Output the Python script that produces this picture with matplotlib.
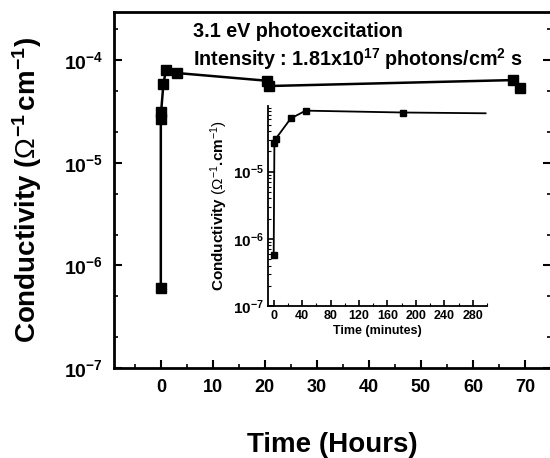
import numpy as np
import matplotlib
matplotlib.use('Agg')
import matplotlib.pyplot as plt
from matplotlib.ticker import FixedLocator, LogLocator, MultipleLocator, NullFormatter

plt.rcParams['font.family'] = ['Liberation Sans', 'DejaVu Sans']
plt.rcParams['mathtext.fontset'] = 'custom'
plt.rcParams['mathtext.rm'] = 'Liberation Sans'
plt.rcParams['mathtext.bf'] = 'Liberation Sans:bold'
plt.rcParams['mathtext.it'] = 'Liberation Sans:italic'

# main curve, time in hours
horas = [0, 0, 0.05, 0.5, 1.0, 3.1, 20.5, 20.7, 67.6, 69.1]
sigma = [6.0e-7, 2.7e-5, 3.1e-5, 5.9e-5, 8.0e-5, 7.5e-5, 6.3e-5, 5.6e-5, 6.4e-5, 5.4e-5]

# inset, time in minutes
minutos = [0, 1, 3, 24, 45, 182, 298]
sigma_min = [5.8e-7, 2.7e-5, 3.1e-5, 6.2e-5, 8.1e-5, 7.6e-5, 7.4e-5]

xticks = [0, 10, 20, 30, 40, 50, 60, 70]
yticks = [1e-7, 1e-6, 1e-5, 1e-4]
ylabels = [r'$\mathbf{10^{-7}}$', r'$\mathbf{10^{-6}}$', r'$\mathbf{10^{-5}}$', r'$\mathbf{10^{-4}}$']
xticks_in = [0, 40, 80, 120, 160, 200, 240, 280]
yticks_in = [1e-7, 1e-6, 1e-5]

W, H = 550, 458
fig = plt.figure(figsize=(5.5, 4.58), dpi=100)

# Main axes
ax = fig.add_axes([114/W, 1-368/H, (551-114)/W, (368-12)/H])
ax.plot(horas, sigma, '-', color='black', lw=1.8, marker='s', ms=7,
        mfc='black', mec='black', clip_on=False)
ax.set_yscale('log')
ax.set_xlim(-9, 75)
ax.set_ylim(1e-7, 2.95e-4)
ax.set_xticks(xticks)
ax.set_xticklabels([str(t) for t in xticks], fontsize=13, fontweight='bold')
ax.xaxis.set_minor_locator(MultipleLocator(5))
ax.yaxis.set_major_locator(FixedLocator(yticks))
ax.set_yticklabels(ylabels, fontsize=14)
ax.yaxis.set_minor_locator(LogLocator(base=10, subs=(2.0, 5.0)))
ax.yaxis.set_minor_formatter(NullFormatter())
ax.tick_params(which='major', direction='in', length=6, width=1.5, pad=8)
ax.tick_params(which='minor', direction='in', length=3, width=1.2)
ax.tick_params(axis='y', which='both', right=True)
for s in ax.spines.values():
    s.set_linewidth(2)

ax.set_xlabel('Time (Hours)', fontsize=20, fontweight='bold', labelpad=26)
ax.set_ylabel(r'Conductivity ($\Omega^{\mathbf{-1}}\,$cm$^{\mathbf{-1}}$)',
              fontsize=20, fontweight='bold', labelpad=14)

fig.text(193/W, 1-37/H, '3.1 eV photoexcitation', fontsize=14.2,
         fontweight='bold', va='baseline')
fig.text(193/W, 1-66/H, r'Intensity : 1.81x10$^{\mathbf{17}}$ photons/cm$^{\mathbf{2}}$ s',
         fontsize=14.2, fontweight='bold', va='baseline')

# Inset
ins = fig.add_axes([268/W, 1-306/H, (487-268)/W, (306-106)/H])
ins.plot(minutos, sigma_min, '-', color='black', lw=1.3, marker='s', ms=4.5,
         mfc='black', mec='black', markevery=[0, 1, 2, 3, 4, 5], clip_on=False)
ins.set_yscale('log')
ins.set_xlim(-8, 300)
ins.set_ylim(1e-7, 9.5e-5)
ins.set_xticks(xticks_in)
ins.set_xticklabels([str(t) for t in xticks_in], fontsize=9, fontweight='bold')
ins.xaxis.set_minor_locator(MultipleLocator(20))
ins.yaxis.set_major_locator(FixedLocator(yticks_in))
ins.set_yticklabels([r'$\mathbf{10^{-7}}$', r'$\mathbf{10^{-6}}$', r'$\mathbf{10^{-5}}$'],
                    fontsize=11)
ins.yaxis.set_minor_locator(LogLocator(base=10, subs=np.arange(2, 10)))
ins.yaxis.set_minor_formatter(NullFormatter())
ins.tick_params(which='major', direction='in', length=4, width=1.2, pad=3)
ins.tick_params(which='minor', direction='in', length=2, width=0.8)
ins.spines['top'].set_visible(False)
ins.spines['right'].set_visible(False)
ins.spines['left'].set_linewidth(1.3)
ins.spines['bottom'].set_linewidth(1.3)
ins.patch.set_alpha(0)
ins.set_xlabel('Time (minutes)', fontsize=9, fontweight='bold', labelpad=2)
ins.set_ylabel(r'Conductivity $(\Omega^{-1}$.cm$^{-1})$', fontsize=11,
               fontweight='bold', labelpad=2)

fig.savefig('out.png', dpi=100)
